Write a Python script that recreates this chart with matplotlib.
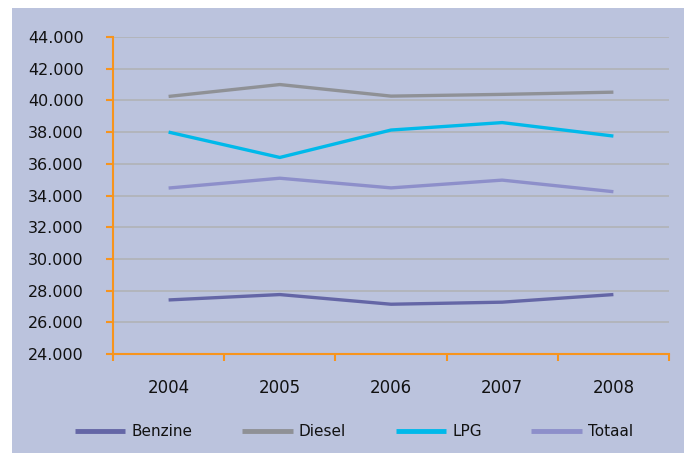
import matplotlib
matplotlib.use("Agg")
import matplotlib.pyplot as plt
from matplotlib.patches import Rectangle

years = ["2004", "2005", "2006", "2007", "2008"]
benzine = [27410, 27750, 27140, 27270, 27750]
diesel = [40250, 41000, 40270, 40380, 40520]
lpg = [38000, 36400, 38130, 38600, 37750]
totaal = [34470, 35090, 34480, 34970, 34240]

series = [
    ("Benzine", benzine, "#6466A6"),
    ("Diesel", diesel, "#8F9196"),
    ("LPG", lpg, "#00B9EA"),
    ("Totaal", totaal, "#8D8FCA"),
]

yticks = list(range(24000, 44001, 2000))
ytick_labels = [f"{v:,}".replace(",", ".") for v in yticks]

bg = "#BBC3DD"
orange = "#F7941D"

fig = plt.figure(figsize=(6.84, 4.53), dpi=100, facecolor="white")
fig.patches.append(Rectangle((12 / 684, 0), 1 - 12 / 684, 1 - 8 / 453,
                             transform=fig.transFigure, facecolor=bg,
                             edgecolor="none", zorder=-10))

ax = fig.add_axes([113 / 684, (453 - 354) / 453, (669 - 113) / 684, (354 - 37) / 453])
ax.set_zorder(1)
ax.patch.set_alpha(0)

x = list(range(len(years)))
for name, vals, col in series:
    ax.plot(x, vals, color=col, lw=2.4, label=name, solid_capstyle="butt", zorder=3)

ax.set_xlim(-0.5, len(years) - 0.5)
ax.set_ylim(24000, 44000)
ax.set_yticks(yticks)
ax.set_yticklabels(ytick_labels, fontsize=11.5, color="#111111")
ax.set_xticks([i - 0.5 for i in range(len(years) + 1)])
ax.set_xticklabels([])
ax.set_xticks(x, minor=True)
ax.set_xticklabels(years, minor=True, fontsize=12, color="#111111")
ax.tick_params(axis="x", which="minor", length=0, pad=18)
ax.tick_params(axis="x", which="major", length=5, width=1.5, color=orange, direction="out")
ax.tick_params(axis="y", length=5, width=1.5, color=orange, direction="out", pad=16)

ax.grid(axis="y", color="#B2B4B9", lw=1.3, zorder=1)
for s in ["top", "right"]:
    ax.spines[s].set_visible(False)
for s in ["left", "bottom"]:
    ax.spines[s].set_color(orange)
    ax.spines[s].set_linewidth(1.5)
    ax.spines[s].set_zorder(4)

leg = fig.legend(loc="center", bbox_to_anchor=(354 / 684, 1 - 432 / 453), ncol=4,
                 frameon=False, fontsize=11, handlelength=3.3, handletextpad=0.4,
                 columnspacing=3.25)
for t in leg.get_texts():
    t.set_color("#111111")
for h in leg.get_lines():
    h.set_linewidth(3.5)

fig.savefig("out.png", dpi=100, facecolor="white")
